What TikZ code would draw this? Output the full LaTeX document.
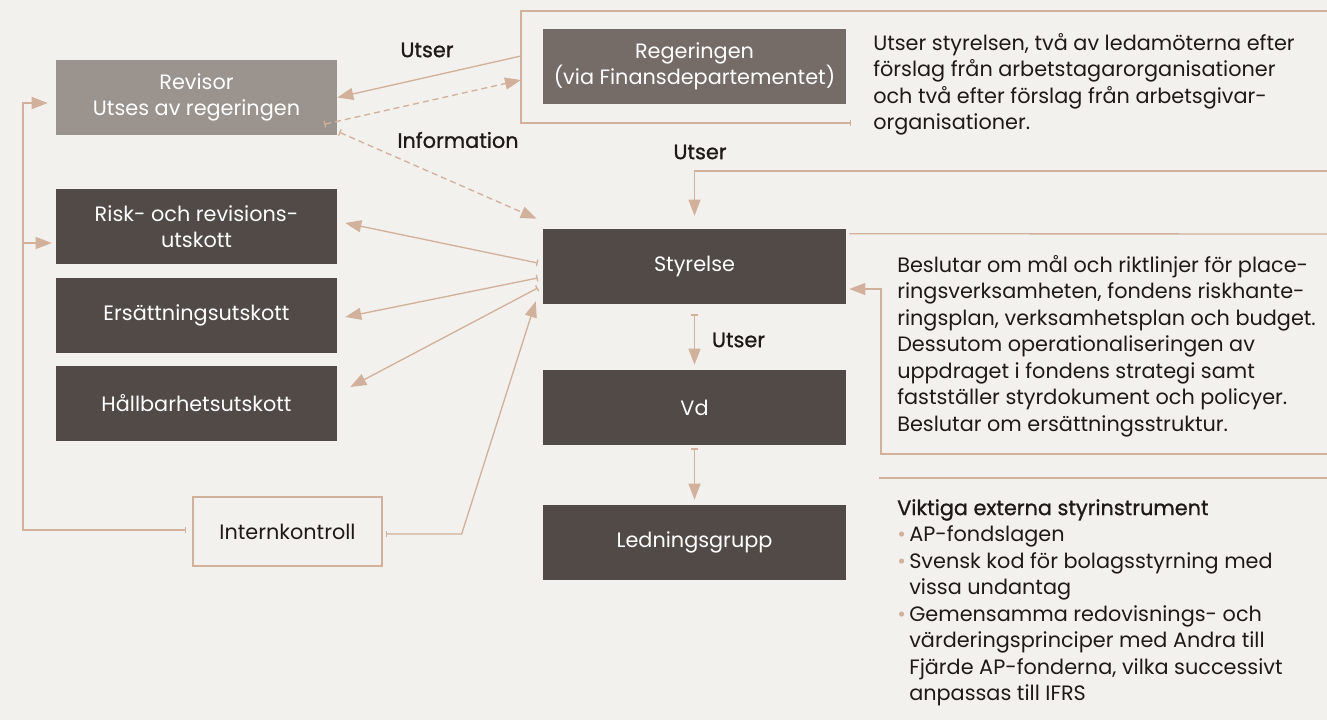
\documentclass[tikz,border=0pt]{standalone}
\usepackage{fontspec}
\setmainfont{Poppins}
\newfontfamily\labelfont{Poppins}[FakeBold=1]
\usetikzlibrary{arrows.meta,calc}

\definecolor{bgcol}{HTML}{F3F1EE}
\definecolor{darkbox}{HTML}{524A46}
\definecolor{revbox}{HTML}{9B938D}
\definecolor{regbox}{HTML}{756B67}
\definecolor{tanline}{HTML}{D1B19B}
\definecolor{inktext}{HTML}{1E1A18}

\newcommand{\tanbullet}{\makebox[9pt][l]{\textcolor{tanline}{\textbullet}}}
\newcommand{\hang}{\hspace*{9pt}}
\newcommand{\bodysize}{\fontsize{15.6}{19.9}\selectfont}

\tikzset{
  box/.style={fill=darkbox, text=white, align=center, minimum height=56.25pt, inner sep=0pt},
  leftbox/.style={box, minimum width=210.75pt},
  midbox/.style={box, minimum width=227.25pt},
  link/.style={draw=tanline, line width=1pt},
  tip/.style={-{Triangle[length=12pt,width=9pt]}},
  bartip/.style={{Bar[width=5pt]}-{Triangle[length=12pt,width=9pt]}},
  dashlink/.style={link, dash pattern=on 4.5pt off 3pt},
  lbl/.style={font=\labelfont\bodysize, text=inktext},
  note/.style={align=left, anchor=north west, inner sep=0pt, text=inktext},
}

\begin{document}
\begin{tikzpicture}[x=0.75pt, y=-0.75pt, font=\bodysize]

  % canvas
  \fill[bgcol] (0,0) rectangle (1327,720);
  \useasboundingbox (0,0) rectangle (1327,720);

  % left column
  \node[leftbox, fill=revbox] (revisor) at (196.5,97.5) {Revisor\\Utses av regeringen};
  \node[leftbox] (risk) at (196.5,226.5) {Risk- och revisions-\\utskott};
  \node[leftbox] (ersutskott) at (196.5,315.5) {Ersättningsutskott};
  \node[leftbox] (hallutskott) at (196.5,403.5) {Hållbarhetsutskott};
  \node[draw=tanline, line width=1pt, text=inktext, minimum width=141.75pt,
        minimum height=51.75pt, inner sep=0pt] (intern) at (287.5,531.5) {Internkontroll};

  % middle column
  \node[midbox, fill=regbox] (regering) at (694.5,66.5) {Regeringen\\(via Finansdepartementet)};
  \node[midbox] (styrelse) at (694.5,266.5) {Styrelse};
  \node[midbox] (vd) at (694.5,407.5) {Vd};
  \node[midbox] (ledning) at (694.5,542.5) {Ledningsgrupp};

  % Regeringen frame
  \coordinate (regend) at (851,123);
  \coordinate (regbot) at (521,123);
  \coordinate (regtop) at (521,11);
  \coordinate (regright) at (1327,11);
  \coordinate (regout) at (521,56);
  \coordinate (regin) at (521,80);
  \draw[link, {Bar[width=5pt]}-] (regend) -- (regbot) -- (regtop) -- (regright);

  % Revisor links
  \draw[link, tip] (regout) -- (revisor.east);
  \draw[dashlink, bartip] ($(revisor.south east)+(-13,-11)$) -- (regin);
  \draw[dashlink, bartip] ($(revisor.south east)+(2,-3)$) -- ($(styrelse.north west)+(-6,-10)$);
  \node[lbl] (utserrev) at (427,50) {Utser};
  \node[lbl] (info) at (458,140) {Information};

  % committees
  \draw[link, bartip] ($(styrelse.west)+(-5,-3.5)$) -- ($(risk.east)+(8,-3.5)$);
  \draw[link, bartip] ($(styrelse.west)+(-5,11.5)$) -- ($(ersutskott.east)+(8,1.5)$);
  \draw[link, bartip] ($(styrelse.west)+(-5,21.5)$) -- ($(hallutskott.east)+(13,-16.5)$);

  % Internkontroll
  \draw[link, bartip] ($(intern.east)+(3,2.5)$) -- ++(76,0) -- ($(styrelse.south west)+(-7,-3)$);
  \coordinate (loop) at (23,103);
  \coordinate (riskin) at ($(risk.west)+(-4,16.5)$);
  \draw[link, {Bar[width=5pt]}-{Triangle[length=12pt,width=9pt]}]
    ($(intern.west)+(-6,-1.5)$) -| (loop) -- ($(revisor.west)+(-8,5.5)$);
  \draw[link, tip] (loop |- riskin) -- (riskin);

  % Styrelse - Vd - Ledningsgrupp
  \coordinate (utsin) at (1327,171);
  \draw[link, tip] (utsin) -| ($(styrelse.north)+(0,-13)$);
  \node[lbl] (utserstyr) at (700,152) {Utser};
  \draw[link, bartip] ($(styrelse.south)+(0,10)$) -- ($(vd.north)+(0,-5)$);
  \node[lbl] (utservd) at (738.5,340) {Utser};
  \draw[link, bartip] ($(vd.south)+(0,3)$) -- ($(ledning.north)+(0,-5)$);

  % Styrelse note frame
  \coordinate (notetop) at (1327,234);
  \coordinate (notebot) at (1327,454);
  \coordinate (notecorner) at (881,289);
  \draw[link] ($(styrelse.north east)+(3,5)$) -- (notetop);
  \draw[link, tip] (notebot) -| (notecorner) -- ($(styrelse.east)+(3,22.5)$);
  \coordinate (rulel) at (879,478);
  \coordinate (ruler) at (1327,478);
  \draw[link] (rulel) -- (ruler);

  % notes
  \node[note] (regnote) at (873,33) {Utser styrelsen, två av ledamöterna efter\\
    förslag från arbetstagarorganisationer\\
    och två efter förslag från arbetsgivar-\\
    organisationer.};
  \node[note] (styrnote) at (897,255) {Beslutar om mål och riktlinjer för place-\\
    ringsverksamheten, fondens riskhante-\\
    ringsplan, verksamhetsplan och budget.\\
    Dessutom operationaliseringen av\\
    uppdraget i fondens strategi samt\\
    fastställer styrdokument och policyer.\\
    Beslutar om ersättningsstruktur.};
  \node[note] (extnote) at (897,499) {{\labelfont Viktiga externa styrinstrument}\\
    \tanbullet AP-fondslagen\\
    \tanbullet Svensk kod för bolagsstyrning med\\
    \hang vissa undantag\\
    \tanbullet Gemensamma redovisnings- och\\
    \hang värderingsprinciper med Andra till\\
    \hang Fjärde AP-fonderna, vilka successivt\\
    \hang anpassas till IFRS};

\end{tikzpicture}
\end{document}
